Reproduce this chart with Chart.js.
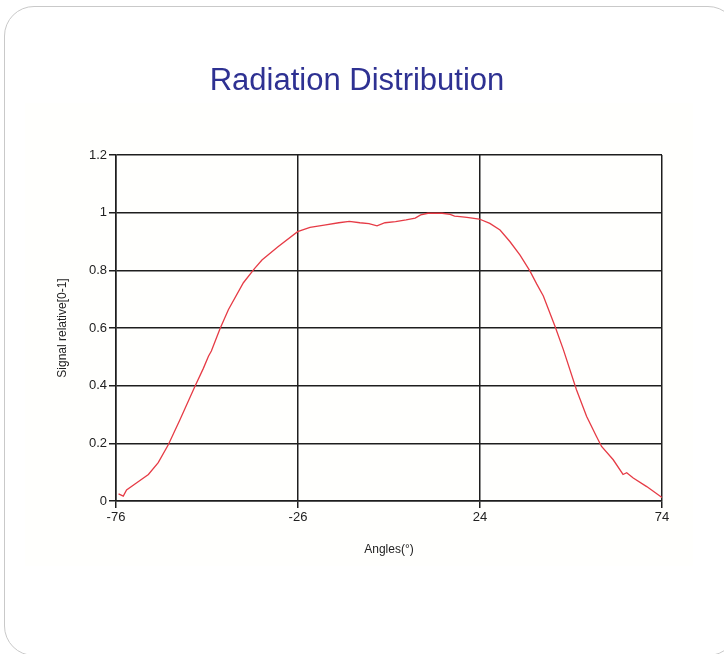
<!DOCTYPE html>
<html>
<head>
<meta charset="utf-8">
<title>Radiation Distribution</title>
<script src="https://cdn.jsdelivr.net/npm/chart.js@4/dist/chart.umd.min.js"></script>
<style>
  html, body { margin: 0; padding: 0; background: #fff; overflow: hidden; }
  body { width: 724px; height: 654px; position: relative; }
  .card { position: absolute; left: 4px; top: 6px; width: 734px; height: 650px; box-sizing: border-box; border: 1px solid #c9c9c9; border-radius: 30px; }
  .plot-bg { position: absolute; left: 25px; top: 103px; width: 668px; height: 463px; background: #fffffd; }
  #chart { position: absolute; left: 0; top: 0; }
</style>
</head>
<body>
<div class="card"></div>
<div class="plot-bg"></div>
<canvas id="chart" width="724" height="654"></canvas>
<script>
// values
const angles = [
  -75.3, -74.0, -73.1, -70.3, -67.1, -64.4, -61.6, -58.4, -54.3, -52.0,
  -50.6, -49.8, -47.4, -45.1, -41.0, -37.9, -35.9, -31.5, -26.1, -22.7,
  -18.8, -14.8, -11.9, -9.0, -6.5, -4.3, -2.1, 0.8, 3.7, 6.2,
  7.7, 9.7, 11.2, 13.6, 15.8, 17.0, 18.5, 20.4, 23.8, 26.7,
  29.5, 32.2, 35.0, 37.7, 39.6, 41.4, 44.6, 46.9, 50.5, 53.3,
  56.0, 57.4, 60.6, 63.3, 64.3, 66.1, 69.8, 74.0,
];
const signal = [
  0.025, 0.017, 0.038, 0.063, 0.092, 0.133, 0.196, 0.283, 0.398, 0.46,
  0.502, 0.52, 0.598, 0.664, 0.757, 0.807, 0.836, 0.882, 0.934, 0.949,
  0.957, 0.965, 0.970, 0.965, 0.962, 0.954, 0.965, 0.969, 0.975, 0.981,
  0.992, 0.998, 0.998, 0.998, 0.994, 0.988, 0.986, 0.984, 0.978, 0.963,
  0.940, 0.900, 0.853, 0.798, 0.752, 0.711, 0.606, 0.525, 0.386, 0.293,
  0.224, 0.189, 0.143, 0.092, 0.098, 0.080, 0.050, 0.012,
];
const xTicks = [-76, -26, 24, 74];
const yTicks = [0, 0.2, 0.4, 0.6, 0.8, 1, 1.2];

const fontFamily = '"Liberation Sans", Arial, sans-serif';
const ink = '#222';
const gridColor = '#1e1e1e';

const points = angles.map((a, i) => ({ x: a, y: signal[i] }));

new Chart(document.getElementById('chart'), {
  type: 'line',
  data: {
    datasets: [
      {
        label: 'Signal',
        data: points,
        borderColor: '#e63b45',
        borderWidth: 1.3,
        pointRadius: 0,
        tension: 0,
        fill: false,
      },
    ],
  },
  options: {
    responsive: false,
    animation: false,
    layout: { padding: { left: 52, right: 62, top: 0, bottom: 83 } },
    plugins: {
      legend: { display: false },
      tooltip: { enabled: false },
      title: {
        display: true,
        text: 'Radiation Distribution',
        color: '#2e3192',
        font: { family: fontFamily, size: 31, weight: 'normal', lineHeight: 1.2 },
        padding: { top: 63, bottom: 54.8 },
      },
    },
    scales: {
      x: {
        type: 'linear',
        min: -76,
        max: 74,
        afterBuildTicks: (s) => { s.ticks = xTicks.map((v) => ({ value: v })); },
        afterFit: (s) => { s.height = 70; },
        grid: { color: gridColor, lineWidth: 1.5, tickLength: 7 },
        border: { color: gridColor, width: 1.5 },
        ticks: { color: ink, font: { family: fontFamily, size: 13 }, padding: 2, maxRotation: 0, autoSkip: false },
        title: {
          display: true,
          text: 'Angles(°)',
          color: ink,
          font: { family: fontFamily, size: 12, lineHeight: 1.2 },
          padding: { top: 0, bottom: 13.8 },
        },
      },
      y: {
        min: 0,
        max: 1.2,
        afterBuildTicks: (s) => { s.ticks = yTicks.map((v) => ({ value: v })); },
        afterFit: (s) => { s.width = 64; },
        grid: { color: gridColor, lineWidth: 1.5, tickLength: 7 },
        border: { color: gridColor, width: 1.5 },
        ticks: { color: ink, font: { family: fontFamily, size: 13 }, padding: 2, callback: (v) => String(v) },
        title: {
          display: true,
          text: 'Signal relative[0-1]',
          color: ink,
          font: { family: fontFamily, size: 12, lineHeight: 1.2 },
          padding: { top: 3, bottom: 0 },
        },
      },
    },
  },
});
</script>
</body>
</html>
